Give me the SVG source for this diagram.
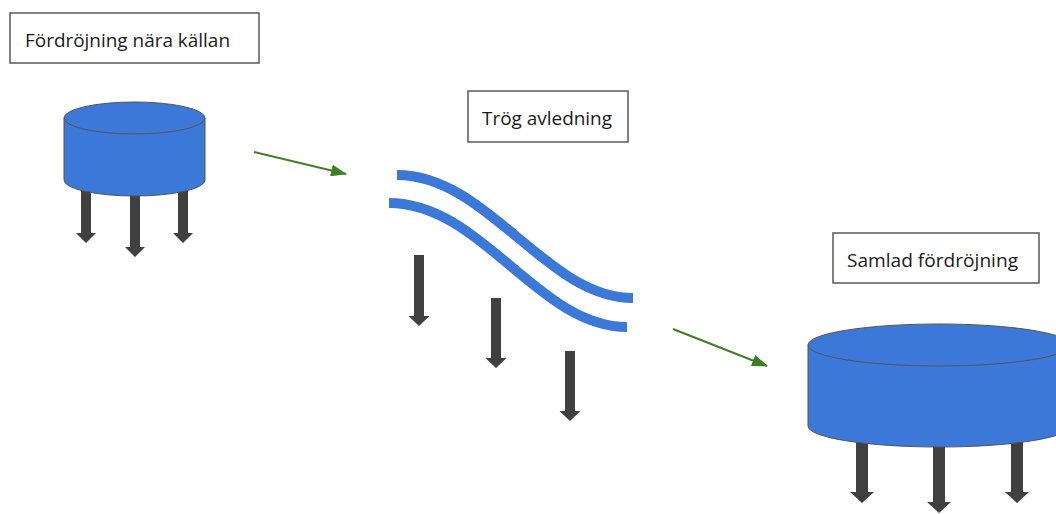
<svg xmlns="http://www.w3.org/2000/svg" width="1056" height="514" viewBox="0 0 1056 514">
<defs>
<style>
.lbl rect{fill:#fff;stroke:#595959;stroke-width:1.5}
.lbl text{font-family:"Open Sans","Liberation Sans",sans-serif;font-size:18.5px;fill:#1a1a1a}
.cyl{fill:#3b78d8;stroke:#555;stroke-width:1}
.leg{fill:#404040}
.pipe{fill:none;stroke:#3b78d8;stroke-width:10}
.flow{stroke:#3f7f24;stroke-width:2;fill:none}
</style>
<marker id="gh" viewBox="0 0 16 12" refX="15" refY="6" markerWidth="8" markerHeight="6" markerUnits="strokeWidth" orient="auto">
<path d="M0,0 L16,6 L0,12 Z" fill="#3f7f24"/>
</marker>
</defs>

<g id="label-source" class="lbl">
<rect x="10" y="13" width="249" height="50"/>
<text x="25" y="47" textLength="205" lengthAdjust="spacingAndGlyphs">Fördröjning nära källan</text>
</g>

<g id="tank-source">
<path class="leg" d="M81,185 H91 V233 H96 L86,243 L76,233 H81 Z"/>
<path class="leg" d="M130,185 H140 V247 H145 L135,257 L125,247 H130 Z"/>
<path class="leg" d="M178,185 H188 V233 H193 L183,243 L173,233 H178 Z"/>
<path class="cyl" d="M64,118 V180 A70.5,16 0 0 0 205,180 V118 Z"/>
<ellipse class="cyl" cx="134.5" cy="118" rx="70.5" ry="16"/>
</g>

<g id="label-pipe" class="lbl">
<rect x="468" y="91" width="160" height="51"/>
<text x="482" y="125" textLength="130" lengthAdjust="spacingAndGlyphs">Trög avledning</text>
</g>

<g id="pipe">
<path class="pipe" d="M397,175 C488,175 546,298 633,298"/>
<path class="pipe" d="M389,203 C482,203 538,327 627,327"/>
<path class="leg" d="M414,255 H424 V316 H429.5 L419,326 L408.5,316 H414 Z"/>
<path class="leg" d="M491,298 H501 V358 H506.5 L496,368 L485.5,358 H491 Z"/>
<path class="leg" d="M565,351 H575 V411 H580.5 L570,421 L559.5,411 H565 Z"/>
</g>

<g id="label-collected" class="lbl">
<rect x="833" y="233" width="206" height="50"/>
<text x="847" y="267" textLength="171" lengthAdjust="spacingAndGlyphs">Samlad fördröjning</text>
</g>

<g id="tank-collected">
<path class="leg" d="M856,430 H868 V492 H874 L862,503 L850,492 H856 Z"/>
<path class="leg" d="M933,430 H945 V502 H951 L939,513 L927,502 H933 Z"/>
<path class="leg" d="M1011,430 H1023 V492 H1029 L1017,503 L1005,492 H1011 Z"/>
<path class="cyl" d="M808,345 V426 A131,21 0 0 0 1070,426 V345 Z"/>
<ellipse class="cyl" cx="939" cy="345" rx="131" ry="21"/>
</g>

<g id="connectors">
<line class="flow" x1="254" y1="152" x2="346" y2="174" marker-end="url(#gh)"/>
<line class="flow" x1="673" y1="329" x2="767" y2="366" marker-end="url(#gh)"/>
</g>
</svg>
